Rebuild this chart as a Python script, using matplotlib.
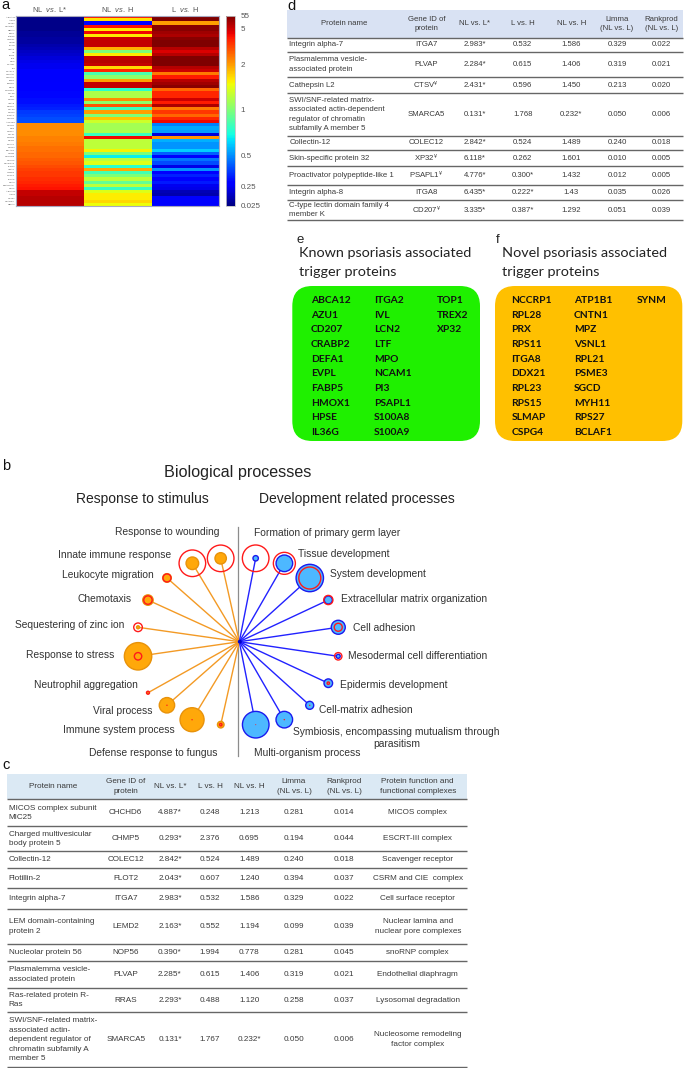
import numpy as np
import matplotlib
matplotlib.use('Agg')
import matplotlib.pyplot as plt
from matplotlib.patches import Circle, FancyBboxPatch, Rectangle

plt.rcParams['font.family'] = ['Liberation Sans', 'DejaVu Sans']
plt.rcParams['mathtext.fontset'] = 'custom'
plt.rcParams['mathtext.rm'] = 'Liberation Sans'
plt.rcParams['mathtext.it'] = 'Liberation Sans:italic'
plt.rcParams['mathtext.bf'] = 'Liberation Sans:bold'

# heatmap values, given as position on the jet scale, one per row
nl_l = [.01, .01, .01, .01, .01, .02, .02, .03, .03, .04, .05, .06, .07, .08, .09, .10, .10, .11, .11, .11,
        .11, .12, .12, .12, .13, .13, .14, .14, .15, .16, .18, .19, .20, .20,
        .76, .76, .76, .76, .77, .77, .78, .79, .79, .80, .80, .81, .82, .83, .84, .85, .85, .86, .87, .88, .89,
        .94, .94, .95, .95, .95]
nl_h = [.88, .67, .12, .89, .66, .90, .66, .93, .94, .94, .72, .50, .66, .94, .95, .94, .68, .87, .44, .52,
        .74, .94, .94, .40, .56, .56, .76, .52, .82, .42, .74, .50, .70, .60,
        .55, .55, .56, .42, .90, .58, .58, .58, .65, .50, .36, .58, .62, .40, .73, .43, .50, .58, .47, .58, .42,
        .62, .66, .66, .68, .64]
l_h = [1.0, 1.0, .74, .99, .99, .97, .96, .99, 1.0, 1.0, .95, .92, .95, 1.0, 1.0, 1.0, .95, .93, .78, .88,
       .95, .97, .99, .80, .87, .87, .93, .88, .96, .78, .85, .80, .87, .90,
       .25, .29, .28, .08, .75, .30, .27, .27, .33, .22, .12, .24, .20, .09, .27, .12, .16, .12, .15, .10, .09,
       .05, .04, .11, .11, .11]
heat_cols = ['NL  $\\mathit{vs.}$ L*', 'NL  $\\mathit{vs.}$ H', 'L  $\\mathit{vs.}$ H']
bar_pos = [1.0, .934, .745, .505, .265, .10, 0.0]
bar_labels = ['55', '5', '2', '1', '0.5', '0.25', '0.025']

# trigger proteins, panels e and f
known = ['ABCA12', 'AZU1', 'CD207', 'CRABP2', 'DEFA1', 'EVPL', 'FABP5', 'HMOX1', 'HPSE', 'IL36G',
         'ITGA2', 'IVL', 'LCN2', 'LTF', 'MPO', 'NCAM1', 'PI3', 'PSAPL1', 'S100A8', 'S100A9',
         'TOP1', 'TREX2', 'XP32']
novel = ['NCCRP1', 'RPL28', 'PRX', 'RPS11', 'ITGA8', 'DDX21', 'RPL23', 'RPS15', 'SLMAP', 'CSPG4',
         'ATP1B1', 'CNTN1', 'MPZ', 'VSNL1', 'RPL21', 'PSME3', 'SGCD', 'MYH11', 'RPS27', 'BCLAF1',
         'SYNM']

# panel b terms: clockwise angle from straight up, distance, node radius, ring radius
stim_terms = ['Response to wounding', 'Innate immune response', 'Leukocyte migration', 'Chemotaxis',
              'Sequestering of zinc ion', 'Response to stress', 'Neutrophil aggregation', 'Viral process',
              'Immune system process', 'Defense response to fungus']
stim_angle = [12.6, 30.9, 48.6, 65.5, 81.9, 98.2, 119.2, 131.3, 148.8, 167.4]
stim_dist = [85.4, 91.4, 96.4, 100.4, 102.3, 102.3, 104.6, 96.3, 91.2, 85.0]
stim_size = [5.7, 6.3, 4.3, 5.2, 1.5, 13.7, 0.8, 7.7, 12.0, 3.3]
stim_ring = [13.3, 13.3, 4.0, 4.2, 4.3, 3.7, 1.5, 0.7, 0.7, 1.2]
dev_terms = ['Formation of primary germ layer', 'Tissue development', 'System development',
             'Extracellular matrix organization', 'Cell adhesion', 'Mesodermal cell differentiation',
             'Epidermis development', 'Cell-matrix adhesion',
             'Symbiosis, encompassing mutualism through\nparasitism', 'Multi-organism process']
dev_angle = [11.1, 29.9, 47.9, 64.9, 81.7, 98.4, 115.0, 132.1, 150.0, 168.8]
dev_dist = [85.0, 90.4, 95.0, 98.3, 100.0, 100.0, 98.2, 94.9, 90.0, 84.6]
dev_size = [2.7, 8.3, 13.7, 4.0, 7.0, 2.0, 4.3, 4.0, 8.3, 13.3]
dev_ring = [13.3, 11.0, 11.0, 4.6, 4.0, 3.7, 1.2, 0.7, 0.7, 0.5]

# table c
c_head = ['Protein name', 'Gene ID of\nprotein', 'NL vs. L*', 'L vs. H', 'NL vs. H', 'Limma\n(NL vs. L)',
          'Rankprod\n(NL vs. L)', 'Protein function and\nfunctional complexes']
c_protein = ['MICOS complex subunit\nMIC25', 'Charged multivesicular\nbody protein 5', 'Collectin-12', 'Flotillin-2',
             'Integrin alpha-7', 'LEM domain-containing\nprotein 2', 'Nucleolar protein 56',
             'Plasmalemma vesicle-\nassociated protein', 'Ras-related protein R-\nRas',
             'SWI/SNF-related matrix-\nassociated actin-\ndependent regulator of\nchromatin subfamily A\nmember 5']
c_gene = ['CHCHD6', 'CHMP5', 'COLEC12', 'FLOT2', 'ITGA7', 'LEMD2', 'NOP56', 'PLVAP', 'RRAS', 'SMARCA5']
c_nl_l = ['4.887*', '0.293*', '2.842*', '2.043*', '2.983*', '2.163*', '0.390*', '2.285*', '2.293*', '0.131*']
c_l_h = ['0.248', '2.376', '0.524', '0.607', '0.532', '0.552', '1.994', '0.615', '0.488', '1.767']
c_nl_h = ['1.213', '0.695', '1.489', '1.240', '1.586', '1.194', '0.778', '1.406', '1.120', '0.232*']
c_limma = ['0.281', '0.194', '0.240', '0.394', '0.329', '0.099', '0.281', '0.319', '0.258', '0.050']
c_rank = ['0.014', '0.044', '0.018', '0.037', '0.022', '0.039', '0.045', '0.021', '0.037', '0.006']
c_func = ['MICOS complex', 'ESCRT-III complex', 'Scavenger receptor', 'CSRM and CIE  complex', 'Cell surface receptor',
          'Nuclear lamina and\nnuclear pore complexes', 'snoRNP complex', 'Endothelial diaphragm',
          'Lysosomal degradation', 'Nucleosome remodeling\nfactor complex']

# table d
d_head = ['Protein name', 'Gene ID of\nprotein', 'NL vs. L*', 'L vs. H', 'NL vs. H', 'Limma\n(NL vs. L)',
          'Rankprod\n(NL vs. L)']
d_protein = ['Integrin alpha-7', 'Plasmalemma vesicle-\nassociated protein', 'Cathepsin L2',
             'SWI/SNF-related matrix-\nassociated actin-dependent\nregulator of chromatin\nsubfamily A member 5',
             'Collectin-12', 'Skin-specific protein 32', 'Proactivator polypeptide-like 1', 'Integrin alpha-8',
             'C-type lectin domain family 4\nmember K']
d_gene = ['ITGA7', 'PLVAP', 'CTSV$^{¥}$', 'SMARCA5', 'COLEC12', 'XP32$^{¥}$', 'PSAPL1$^{¥}$', 'ITGA8', 'CD207$^{¥}$']
d_nl_l = ['2.983*', '2.284*', '2.431*', '0.131*', '2.842*', '6.118*', '4.776*', '6.435*', '3.335*']
d_l_h = ['0.532', '0.615', '0.596', '1.768', '0.524', '0.262', '0.300*', '0.222*', '0.387*']
d_nl_h = ['1.586', '1.406', '1.450', '0.232*', '1.489', '1.601', '1.432', '1.43', '1.292']
d_limma = ['0.329', '0.319', '0.213', '0.050', '0.240', '0.010', '0.012', '0.035', '0.051']
d_rank = ['0.022', '0.021', '0.020', '0.006', '0.018', '0.005', '0.005', '0.026', '0.039']

# the row labels of the heatmap can't be read at this size, these genes stand in for them
row_labels = (known + novel + c_gene + ['CTSV'] + known)[:60]

W, H = 685, 1068
fig = plt.figure(figsize=(W / 100, H / 100), dpi=100)
ax = fig.add_axes([0, 0, 1, 1])
ax.set_xlim(0, W)
ax.set_ylim(H, 0)
ax.axis('off')


def axes_px(x0, y0, x1, y1):
    return fig.add_axes([x0 / W, 1 - y1 / H, (x1 - x0) / W, (y1 - y0) / H])


# a: heatmap
hm = axes_px(15.7, 15.7, 219.3, 206)
im = hm.imshow(np.array([nl_l, nl_h, l_h]).T, cmap='jet', vmin=0, vmax=1, aspect='auto', interpolation='nearest')
hm.set_xticks(range(3), heat_cols, fontsize=5.4, color='#555555')
hm.xaxis.tick_top()
hm.tick_params(length=0, pad=1.5)
hm.set_yticks(range(60), row_labels, fontsize=1.7, color='#555555')
hm.tick_params(axis='y', pad=0.5)
for s in hm.spines.values():
    s.set_color('#a8a8c0')
    s.set_linewidth(0.8)

cax = axes_px(225.7, 15.7, 235, 206)
cb = fig.colorbar(im, cax=cax)
cb.set_ticks(bar_pos, labels=bar_labels)
cb.ax.tick_params(length=0, labelsize=5.8, labelcolor='#555555', pad=4)
cb.outline.set_edgecolor('#c0c0c0')
cb.outline.set_linewidth(0.6)

# panel letters
for letter, x, y in [('a', 1, 5), ('d', 287, 6.5), ('b', 2.5, 465.5), ('c', 2, 765)]:
    ax.text(x, y, letter, fontsize=10.5, va='center', ha='left', color='#111111')


def draw_table(x_left, x_right, y_head, y_lines, head, head_x, cols, col_x, head_color, text_x, size, spacing):
    ax.add_patch(Rectangle((x_left, y_head), x_right - x_left, y_lines[0] - y_head, fc=head_color, ec='none'))
    mid_head = (y_head + y_lines[0]) / 2
    for t, x in zip(head, head_x):
        ax.text(x, mid_head, t, ha='center', va='center', fontsize=size, color='#3a3a3a', linespacing=spacing)
    for k, yl in enumerate(y_lines):
        ax.plot([x_left, x_right], [yl, yl], color='#666666', lw=1.0, solid_capstyle='butt')
    for r in range(len(cols[0])):
        mid = (y_lines[r] + y_lines[r + 1]) / 2
        ax.text(text_x, mid, cols[0][r], ha='left', va='center', fontsize=size, color='#3a3a3a', linespacing=spacing)
        for c in range(1, len(cols)):
            ax.text(col_x[c - 1], mid, cols[c][r], ha='center', va='center', fontsize=size, color='#3a3a3a',
                    linespacing=spacing)


# d: table
draw_table(287.3, 683, 10, [37.7, 52, 77.3, 93.3, 135.7, 150, 166, 185, 200, 220], d_head,
           [344, 426.3, 475, 522.7, 571.3, 617, 661.7],
           [d_protein, d_gene, d_nl_l, d_l_h, d_nl_h, d_limma, d_rank],
           [426.3, 475, 522.7, 571.3, 617, 661.7], '#d9e2f3', 289.3, 5.6, 1.5)

# c: table
draw_table(6.7, 466.7, 774, [799.3, 826.3, 851.3, 868, 888.3, 909, 944, 961, 988.3, 1012, 1067.3], c_head,
           [53, 125.7, 170, 210, 249.3, 294, 344.3, 417.7],
           [c_protein, c_gene, c_nl_l, c_l_h, c_nl_h, c_limma, c_rank, c_func],
           [125.7, 170, 210, 249.3, 294, 344.3, 417.7], '#dbe9f4', 8.7, 5.85, 1.52)

# e, f: gene boxes
for letter, lx, tx, x0, x1, color, genes, col_x in [
        ('e', 296.7, 299.3, 292.3, 480, '#1ff000', known, [310.7, 373.7, 436.7]),
        ('f', 495.7, 501.7, 495, 682.3, '#ffc000', novel, [511.3, 574, 636.7])]:
    ax.text(lx, 240, letter, fontsize=9.5, ha='left', va='center', color='#222222')
    ax.text(tx, 253.3, 'Known psoriasis associated' if letter == 'e' else 'Novel psoriasis associated',
            family='Lato', fontsize=10.4, va='center', color='#222222')
    ax.text(tx, 272.3, 'trigger proteins', family='Lato', fontsize=10.4, va='center', color='#222222')
    ax.add_patch(FancyBboxPatch((x0 + 20, 306), x1 - x0 - 40, 115, boxstyle='round,pad=20,rounding_size=20',
                                fc=color, ec='none'))
    for i, g in enumerate(genes):
        ax.text(col_x[i // 10], 303 + 14.67 * (i % 10), g, family='Lato', fontweight='bold', fontsize=7.4,
                ha='left', va='baseline', color='#111111')

# b: network
cx, cy = 239.3, 641.7
ax.text(237.5, 472, 'Biological processes', fontsize=11.6, ha='center', va='center', color='#222222')
ax.text(142, 499.3, 'Response to stimulus', fontsize=10, ha='center', va='center', color='#222222')
ax.text(356.5, 499.3, 'Development related processes', fontsize=10, ha='center', va='center', color='#222222')
ax.plot([238.5, 238.5], [527, 756], color='#8c8c8c', lw=0.9)


def draw_side(sign, angle, dist, size, ring, line_c, fill_c, edge_c):
    for a, d, s, r in zip(angle, dist, size, ring):
        x = cx + sign * d * np.sin(np.radians(a))
        y = cy - d * np.cos(np.radians(a))
        ax.plot([cx, x], [cy, y], color=line_c, lw=1.0, zorder=2)
        ax.add_patch(Circle((x, y), s, fc=fill_c, ec=edge_c, lw=1.0, zorder=3))
        ax.add_patch(Circle((x, y), r, fc='none' if r > 1 else '#ff1a1a', ec='#ff1a1a', lw=1.0 if r > 1 else 0,
                            zorder=4))


draw_side(-1, stim_angle, stim_dist, stim_size, stim_ring, '#f39a25', '#ffa80a', '#e8920a')
draw_side(1, dev_angle, dev_dist, dev_size, dev_ring, '#2222ff', '#4db8ff', '#1a1aee')
ax.add_patch(Circle((cx - 1.5, cy), 2.5, fc='#f39a25', ec='none', zorder=5))
ax.add_patch(Circle((cx + 0.5, cy), 2, fc='#0000cc', ec='none', zorder=5))

stim_lx = [115, 58.3, 61.7, 78, 15, 26.3, 33.7, 93, 63, 89.3]
stim_ly = [532.3, 555, 574.7, 599, 625.3, 655, 685.3, 710.7, 730.3, 752.7]
dev_lx = [254.3, 298.3, 330.3, 341.3, 352.7, 348.3, 339.7, 319.3, 293.3, 254.3]
dev_ly = [532.7, 554.3, 574, 598.7, 628, 656.3, 684.7, 710.3, 738, 752.7]
for t, x, y in zip(stim_terms + dev_terms, stim_lx + dev_lx, stim_ly + dev_ly):
    ax.text(x, y, t, fontsize=7.4, ha='left', va='center', color='#333333', multialignment='center')

fig.savefig('out.png', dpi=100)
